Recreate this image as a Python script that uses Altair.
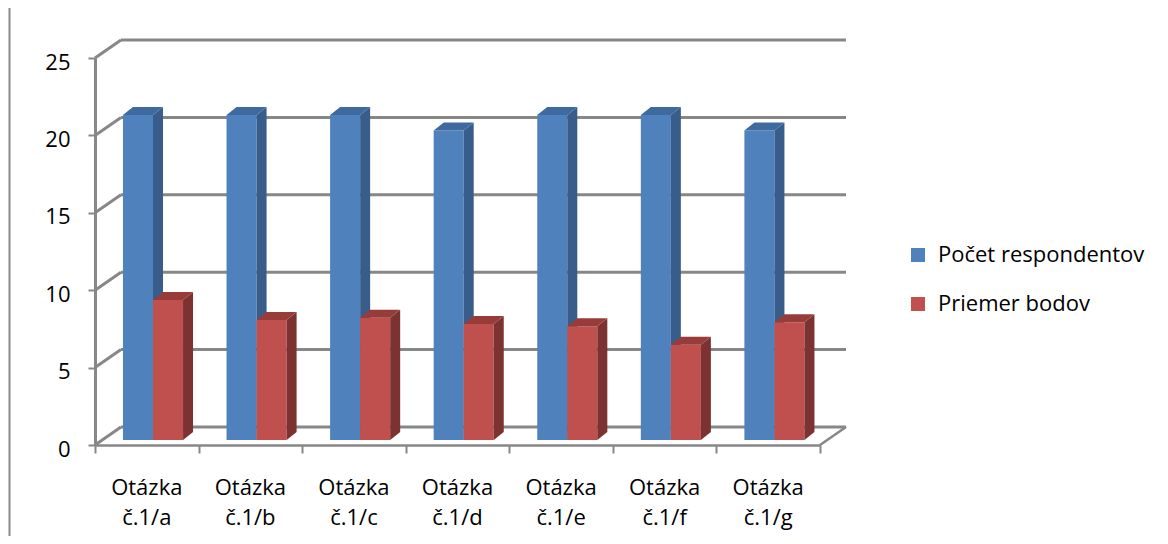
import altair as alt
import pandas as pd

# ---------------- data ----------------
categories = ["Otázka\nč.1/a", "Otázka\nč.1/b", "Otázka\nč.1/c", "Otázka\nč.1/d",
              "Otázka\nč.1/e", "Otázka\nč.1/f", "Otázka\nč.1/g"]
series = ["Počet respondentov", "Priemer bodov"]
respondents = [21, 21, 21, 20, 21, 21, 20]
avg_points = [9.05, 7.75, 7.9, 7.5, 7.35, 6.15, 7.6]
y_ticks = [0, 5, 10, 15, 20, 25]

front_colors = ["#4F81BD", "#C0504D"]
side_colors = ["#385D8A", "#7C3230"]
top_colors = ["#3E6A9F", "#983C3A"]
GRID = "#878787"
FONT = "Open Sans"

# ---------------- geometry (plot area = front plane) ----------------
W, H = 725, 387
N = len(categories)
YMAX = 25
XPU = W / N          # px per category unit
YPU = H / YMAX       # px per value unit
BACK_DX, BACK_DY = 26 / XPU, 18 / YPU     # depth of back wall
BAR_BASE = 5 / YPU                         # bars stand slightly behind front edge
BAR_DX, BAR_DY = 10 / XPU, 8 / YPU         # bar depth
SLOTS = [(0.27, 0.56), (0.56, 0.85)]

values = [respondents, avg_points]

fronts, sides, tops = [], [], []
for s, name in enumerate(series):
    x0o, x1o = SLOTS[s]
    for i, v in enumerate(values[s]):
        x0, x1 = i + x0o, i + x1o
        b, t = BAR_BASE, BAR_BASE + v
        bid = f"{s}-{i}"
        fronts.append(dict(series=name, s=s, x0=x0, x1=x1, y0=b, y1=t, value=v))
        sides.append(dict(series=name, s=s, bar=bid, x=x1, ylo=b, yhi=t))
        sides.append(dict(series=name, s=s, bar=bid, x=x1 + BAR_DX, ylo=b + BAR_DY, yhi=t + BAR_DY))
        tops.append(dict(series=name, s=s, bar=bid, y=t, xlo=x0, xhi=x1))
        tops.append(dict(series=name, s=s, bar=bid, y=t + BAR_DY, xlo=x0 + BAR_DX, xhi=x1 + BAR_DX))

fronts = pd.DataFrame(fronts)
sides = pd.DataFrame(sides)
tops = pd.DataFrame(tops)

grid_back = pd.DataFrame({"v": y_ticks})
grid_back["yb"] = grid_back["v"] + BACK_DY
grid_back["x0"] = BACK_DX
grid_back["x1"] = N + BACK_DX
grid_back["xf"] = 0.0

floor_right = pd.DataFrame({"x": [N], "x2": [N + BACK_DX], "y": [0.0], "y2": [BACK_DY]})
labels = pd.DataFrame({"label": categories, "pos": [i + 0.5 for i in range(N)]})

xs = alt.Scale(domain=[0, N], nice=False, zero=False)
ys = alt.Scale(domain=[0, YMAX], nice=False, zero=False)

x_axis = alt.Axis(values=list(range(N + 1)), labels=False, grid=False, title=None,
                  tickSize=8, tickColor=GRID, tickWidth=2, domainColor=GRID, domainWidth=2.5)
y_axis = alt.Axis(values=y_ticks, grid=False, title=None, tickSize=7, tickColor=GRID,
                  tickWidth=2, domainColor=GRID, domainWidth=3, labelFont=FONT,
                  labelFontSize=22, labelColor="#000000", labelPadding=18, labelOffset=4)


def X(field):
    return alt.X(field, scale=xs, axis=x_axis, title=None)


def Y(field):
    return alt.Y(field, scale=ys, axis=y_axis, title=None)


# back wall gridlines
back_lines = alt.Chart(grid_back).mark_rule(color=GRID, strokeWidth=3).encode(
    x=X("x0:Q"), x2="x1:Q", y=Y("yb:Q"), y2="yb:Q",
)
# side-wall diagonals from front axis to back wall
diagonals = alt.Chart(grid_back).mark_rule(color=GRID, strokeWidth=3).encode(
    x=X("xf:Q"), x2="x0:Q", y=Y("v:Q"), y2="yb:Q",
)
floor_edge = alt.Chart(floor_right).mark_rule(color=GRID, strokeWidth=2.5).encode(
    x=X("x:Q"), x2="x2:Q", y=Y("y:Q"), y2="y2:Q",
)

legend = alt.Legend(orient="none", legendX=812, legendY=186, title=None,
                    symbolType="square", symbolSize=196, symbolStrokeWidth=0,
                    labelFont=FONT, labelFontSize=22, labelColor="#000000",
                    labelOffset=9, rowPadding=27, padding=0, labelLimit=0)

layers = [back_lines, diagonals, floor_edge]
for s in range(len(series)):
    f = alt.Chart(fronts[fronts.s == s]).mark_rect().encode(
        x=X("x0:Q"), x2="x1:Q", y=Y("y0:Q"), y2="y1:Q",
        color=alt.Color("series:N", scale=alt.Scale(domain=series, range=front_colors),
                        legend=legend),
    )
    sd = alt.Chart(sides[sides.s == s]).mark_area(color=side_colors[s], orient="vertical").encode(
        x=X("x:Q"), y=Y("yhi:Q"), y2="ylo:Q", detail="bar:N",
    )
    tp = alt.Chart(tops[tops.s == s]).mark_area(color=top_colors[s], orient="horizontal").encode(
        y=Y("y:Q"), x=X("xlo:Q"), x2="xhi:Q", detail="bar:N",
    )
    layers += [f, sd, tp]

cat_text = alt.Chart(labels).mark_text(
    font=FONT, fontSize=22, color="#000000", lineBreak="\n", lineHeight=30,
    baseline="alphabetic", align="center"
).encode(
    x=X("pos:Q"),
    y=alt.value(437),
    text="label:N",
)

border = alt.Chart(pd.DataFrame({"k": [0]})).mark_rule(color="#8a8a8a", strokeWidth=2).encode(
    x=alt.value(-85.5), y=alt.value(-60), y2=alt.value(480)
)

layers += [cat_text, border]

chart = alt.layer(*layers).properties(
    width=W, height=H,
    background="#ffffff",
    autosize=alt.AutoSizeParams(type="none"),
    padding={"left": 87, "top": 50, "right": 340, "bottom": 91},
).configure_view(stroke=None)

chart.save("out.html", embed_options={"renderer": "svg", "actions": False})
